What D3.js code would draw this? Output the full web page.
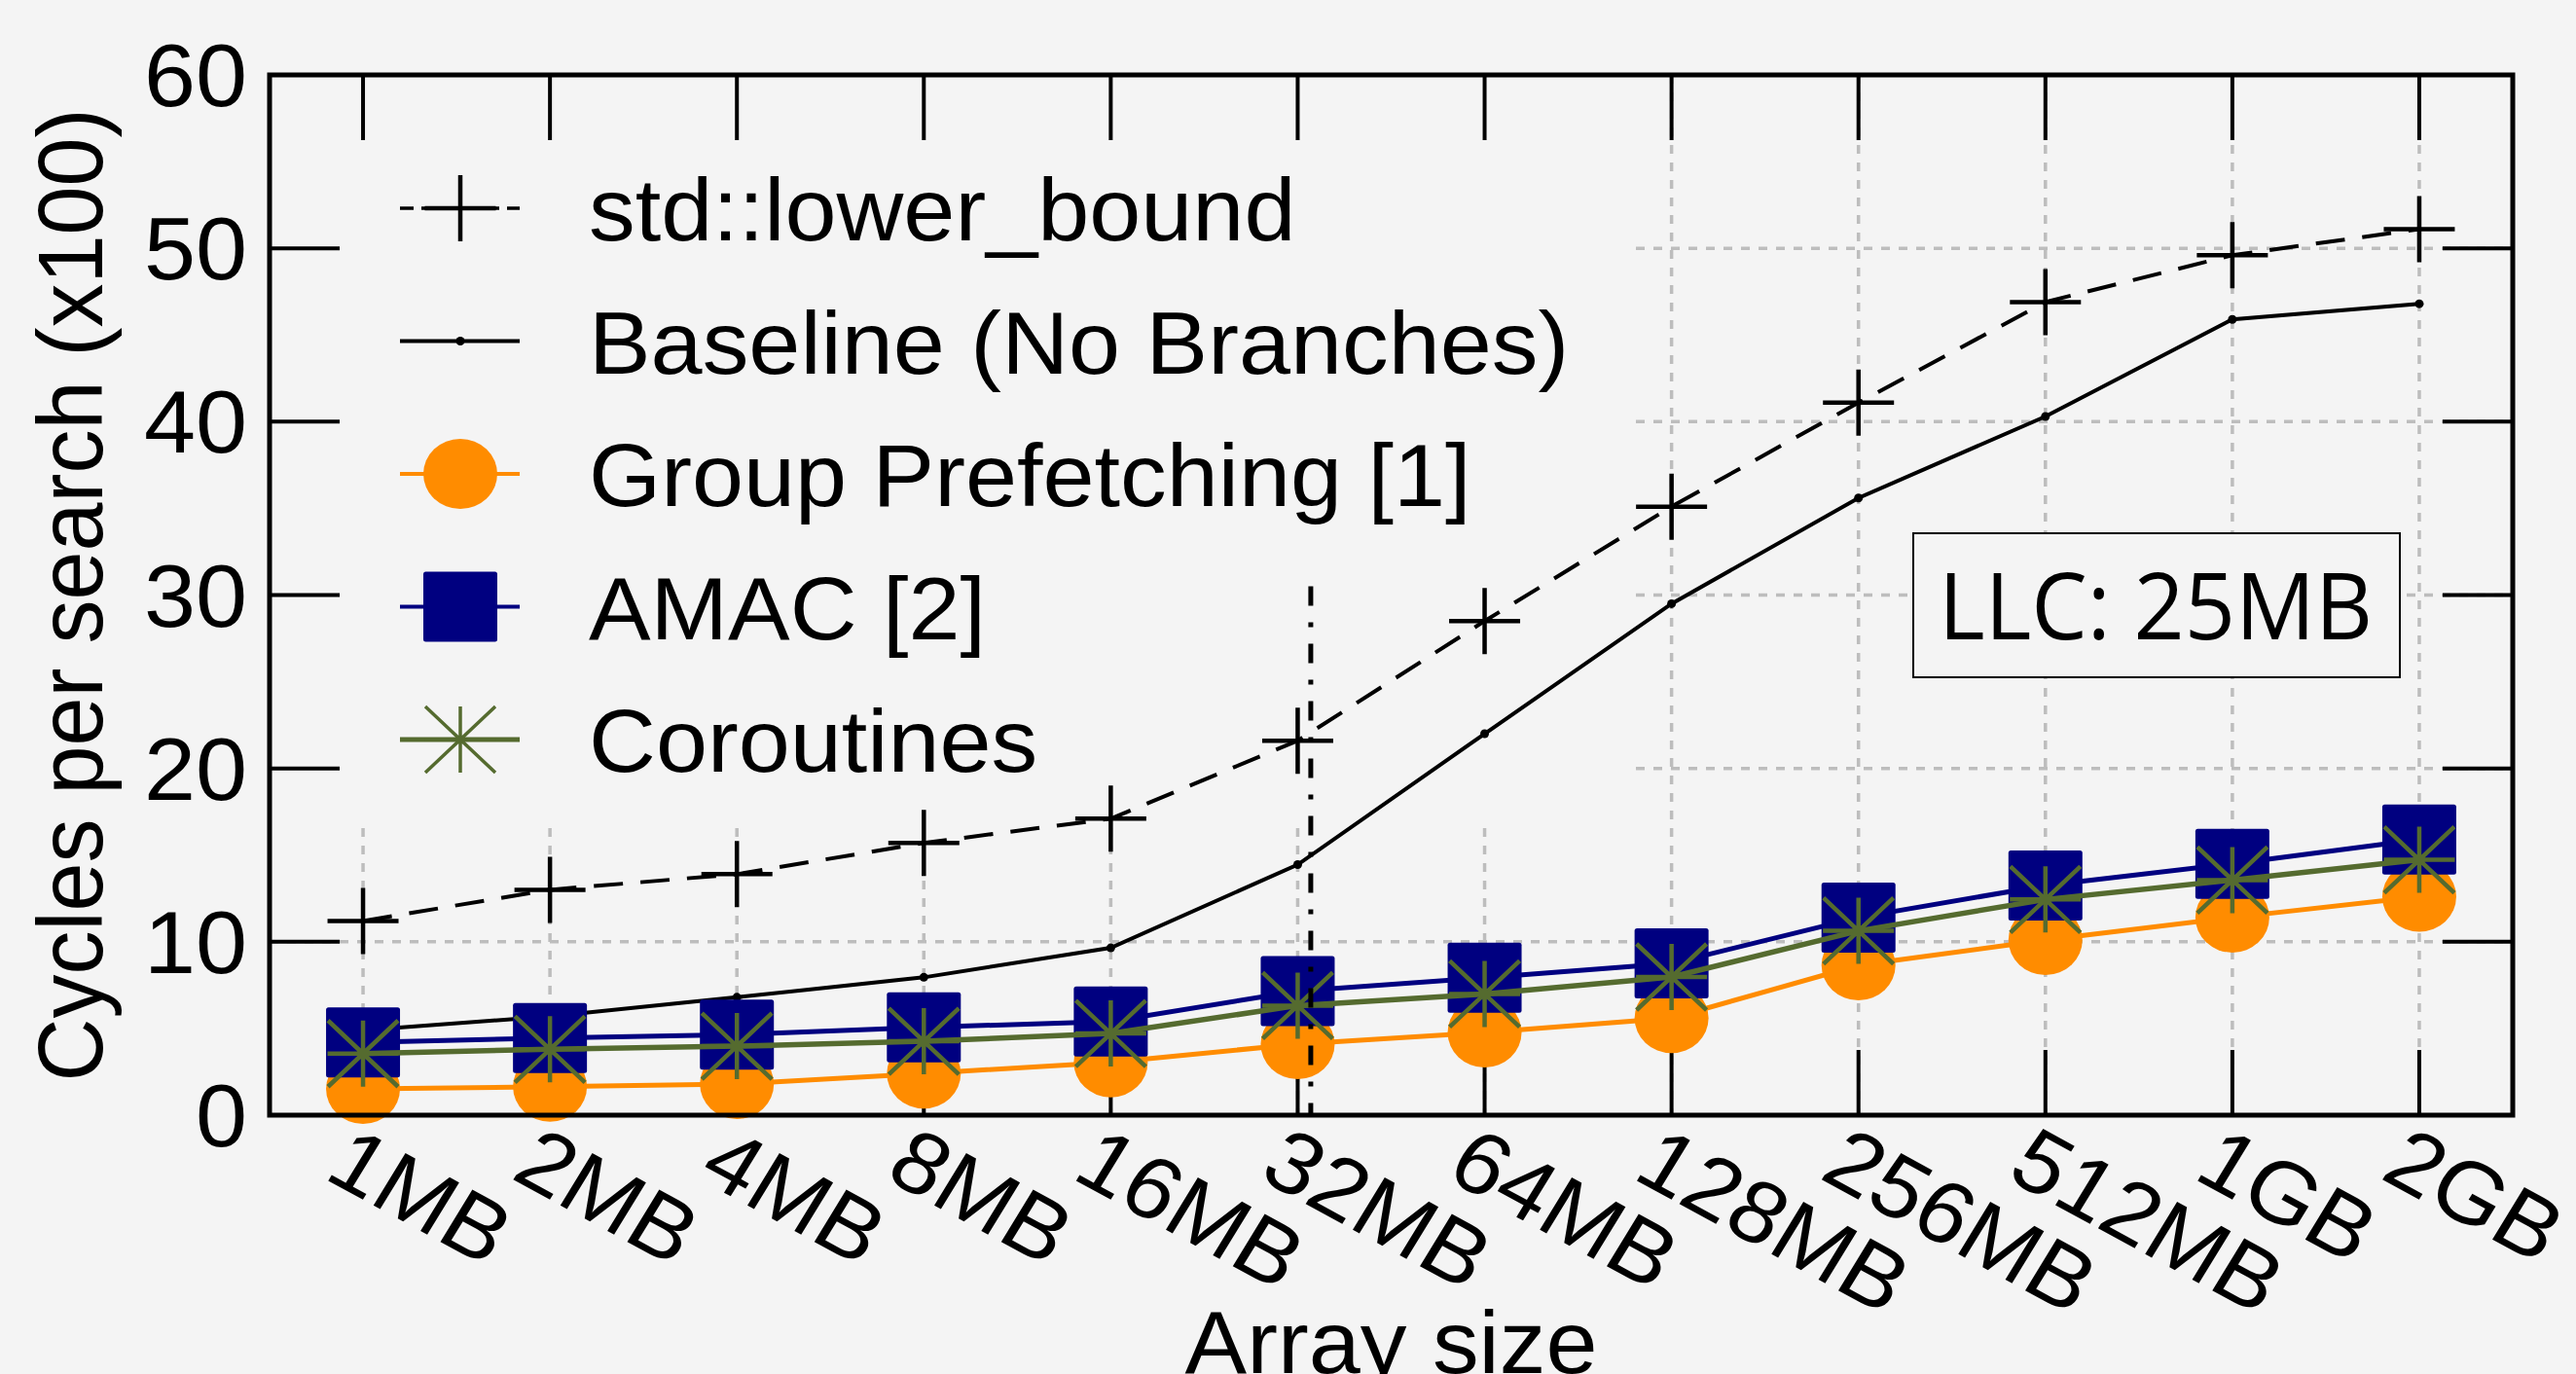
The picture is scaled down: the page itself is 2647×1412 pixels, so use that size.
<!DOCTYPE html>
<html>
<head>
<meta charset="utf-8">
<script src="https://cdn.jsdelivr.net/npm/d3@7"></script>
<style>
  html, body { margin: 0; padding: 0; background: #f4f4f4; overflow: hidden; }
  svg { display: block; }
</style>
</head>
<body>
<svg id="chart" width="2647" height="1412"></svg>
<script>
// ---------------- data ----------------
const categories = ["1MB","2MB","4MB","8MB","16MB","32MB","64MB","128MB","256MB","512MB","1GB","2GB"];
const stdLowerBound    = [11.2, 13.0, 13.9, 15.7, 17.1, 21.6, 28.5, 35.1, 41.1, 46.9, 49.6, 51.1];
const baselineNoBranch = [4.9, 5.7, 6.8, 7.95, 9.65, 14.45, 22.0, 29.5, 35.6, 40.3, 45.9, 46.8];
const groupPrefetching = [1.52, 1.64, 1.8, 2.4, 3.05, 4.1, 4.77, 5.6, 8.64, 10.1, 11.4, 12.6];
const amac             = [4.2, 4.45, 4.65, 5.07, 5.4, 7.16, 7.93, 8.75, 11.4, 13.25, 14.5, 15.9];
const coroutines       = [3.55, 3.8, 3.98, 4.26, 4.71, 6.32, 6.99, 7.97, 10.63, 12.44, 13.56, 14.73];
const yTicks = [0, 10, 20, 30, 40, 50, 60];
const gridY = [10, 20, 30, 40, 50];
const legendLabels = ["std::lower_bound", "Baseline (No Branches)", "Group Prefetching [1]", "AMAC [2]", "Coroutines"];
const llcLabel = "LLC: 25MB";
const llcIndex = 5.07;   // category position of the LLC marker line
const llcTop = 30.5;     // value where the LLC marker line starts
const yLabel = "Cycles per search (x100)";
const xLabel = "Array size";

// ---------------- layout ----------------
const W = 2647, H = 1412;
const L = 277, R = 2582, T = 77, B = 1146;
const bg = "#f4f4f4";
const FONT = "'Liberation Sans', Arial, Helvetica, sans-serif";
const FS = 90;
const SX = 1.06;
const C_ORANGE = "#ff8c00", C_NAVY = "#000080", C_GREEN = "#556b2f";

const svg = d3.select("#chart");
svg.append("rect").attr("width", W).attr("height", H).attr("fill", bg);

const x = d3.scalePoint().domain(categories).range([L, R]).padding(0.5);
const y = d3.scaleLinear().domain([0, 60]).range([B, T]);

// grid
const grid = svg.append("g").attr("stroke", "#bdbdbd").attr("stroke-width", 3.5).attr("stroke-dasharray", "9,9");
grid.selectAll("line.h").data(gridY).join("line")
  .attr("x1", L).attr("x2", R).attr("y1", d => y(d)).attr("y2", d => y(d));
grid.selectAll("line.v").data(categories).join("line")
  .attr("x1", d => x(d)).attr("x2", d => x(d)).attr("y1", T).attr("y2", B);

// opaque key background
svg.append("rect").attr("x", L).attr("y", T).attr("width", 1680 - L).attr("height", 843 - T).attr("fill", bg);

// LLC box
svg.append("rect").attr("x", 1966).attr("y", 548).attr("width", 500).attr("height", 148)
  .attr("fill", bg).attr("stroke", "#000").attr("stroke-width", 2);
svg.append("text").attr("x", 2215).attr("y", 657).attr("text-anchor", "middle")
  .attr("font-family", "'Open Sans', sans-serif").attr("font-size", 95)
  .attr("textLength", 446).attr("lengthAdjust", "spacingAndGlyphs")
  .text(llcLabel);

// ticks (mirror, inside)
const ticks = svg.append("g").attr("stroke", "#000").attr("stroke-width", 4);
ticks.selectAll("line.tb").data(categories).join("line")
  .attr("x1", d => x(d)).attr("x2", d => x(d)).attr("y1", T).attr("y2", T + 67);
ticks.selectAll("line.bb").data(categories).join("line")
  .attr("x1", d => x(d)).attr("x2", d => x(d)).attr("y1", B).attr("y2", B - 67);
ticks.selectAll("line.lt").data(yTicks).join("line")
  .attr("x1", L).attr("x2", L + 72).attr("y1", d => y(d)).attr("y2", d => y(d));
ticks.selectAll("line.rt").data(yTicks).join("line")
  .attr("x1", R).attr("x2", R - 72).attr("y1", d => y(d)).attr("y2", d => y(d));

const line = d3.line().x((d, i) => x(categories[i])).y(d => y(d));

const plusPath = "M-36.5,0H36.5M0,-34V34";
const starPath = "M-36.5,0H36.5M0,-34V34M-36,-34L36,34M-36,34L36,-34";

// std::lower_bound
svg.append("path").attr("d", line(stdLowerBound)).attr("fill", "none")
  .attr("stroke", "#000").attr("stroke-width", 4).attr("stroke-dasharray", "30,18");
svg.append("g").selectAll("path").data(stdLowerBound).join("path")
  .attr("transform", (d, i) => `translate(${x(categories[i])},${y(d)})`)
  .attr("d", plusPath).attr("stroke", "#000").attr("stroke-width", 4.5).attr("fill", "none");

// baseline
svg.append("path").attr("d", line(baselineNoBranch)).attr("fill", "none")
  .attr("stroke", "#000").attr("stroke-width", 4);
svg.append("g").selectAll("circle").data(baselineNoBranch).join("circle")
  .attr("cx", (d, i) => x(categories[i])).attr("cy", d => y(d)).attr("r", 4.5).attr("fill", "#000");

// group prefetching
svg.append("path").attr("d", line(groupPrefetching)).attr("fill", "none")
  .attr("stroke", C_ORANGE).attr("stroke-width", 5);
svg.append("g").selectAll("ellipse").data(groupPrefetching).join("ellipse")
  .attr("cx", (d, i) => x(categories[i])).attr("cy", d => y(d)).attr("rx", 38).attr("ry", 36).attr("fill", C_ORANGE);

// AMAC
svg.append("path").attr("d", line(amac)).attr("fill", "none")
  .attr("stroke", C_NAVY).attr("stroke-width", 5);
svg.append("g").selectAll("rect").data(amac).join("rect")
  .attr("x", (d, i) => x(categories[i]) - 38).attr("y", d => y(d) - 36)
  .attr("width", 76).attr("height", 72).attr("rx", 2.5).attr("fill", C_NAVY);

// coroutines
svg.append("path").attr("d", line(coroutines)).attr("fill", "none")
  .attr("stroke", C_GREEN).attr("stroke-width", 5.5);
svg.append("g").selectAll("path").data(coroutines).join("path")
  .attr("transform", (d, i) => `translate(${x(categories[i])},${y(d)})`)
  .attr("d", starPath).attr("stroke", C_GREEN).attr("stroke-width", 4.5).attr("fill", "none");

// border
svg.append("rect").attr("x", L).attr("y", T).attr("width", R - L).attr("height", B - T)
  .attr("fill", "none").attr("stroke", "#000").attr("stroke-width", 5);

// LLC marker line
const llcX = x(categories[0]) + llcIndex * x.step();
svg.append("line").attr("x1", llcX).attr("x2", llcX).attr("y1", y(llcTop)).attr("y2", B)
  .attr("stroke", "#000").attr("stroke-width", 5).attr("stroke-dasharray", "20,17,5,17");

// legend
const legY = [214, 350.5, 487, 623.5, 760];
const lx1 = 411, lx2 = 534, lm = 473, ltx = 605;
const leg = svg.append("g");
// row 0
leg.append("line").attr("x1", lx1).attr("x2", lx2).attr("y1", legY[0]).attr("y2", legY[0])
  .attr("stroke", "#000").attr("stroke-width", 3.5).attr("stroke-dasharray", "14,8");
leg.append("path").attr("transform", `translate(${lm},${legY[0]})`).attr("d", plusPath)
  .attr("stroke", "#000").attr("stroke-width", 4.5).attr("fill", "none");
// row 1
leg.append("line").attr("x1", lx1).attr("x2", lx2).attr("y1", legY[1]).attr("y2", legY[1])
  .attr("stroke", "#000").attr("stroke-width", 4);
leg.append("circle").attr("cx", lm).attr("cy", legY[1]).attr("r", 4.5).attr("fill", "#000");
// row 2
leg.append("line").attr("x1", lx1).attr("x2", lx2).attr("y1", legY[2]).attr("y2", legY[2])
  .attr("stroke", C_ORANGE).attr("stroke-width", 4);
leg.append("ellipse").attr("cx", lm).attr("cy", legY[2]).attr("rx", 38).attr("ry", 36).attr("fill", C_ORANGE);
// row 3
leg.append("line").attr("x1", lx1).attr("x2", lx2).attr("y1", legY[3]).attr("y2", legY[3])
  .attr("stroke", C_NAVY).attr("stroke-width", 4);
leg.append("rect").attr("x", lm - 38).attr("y", legY[3] - 36).attr("width", 76).attr("height", 72)
  .attr("rx", 2.5).attr("fill", C_NAVY);
// row 4
leg.append("line").attr("x1", lx1).attr("x2", lx2).attr("y1", legY[4]).attr("y2", legY[4])
  .attr("stroke", C_GREEN).attr("stroke-width", 5);
leg.append("path").attr("transform", `translate(${lm},${legY[4]})`).attr("d", starPath)
  .attr("stroke", C_GREEN).attr("stroke-width", 3.5).attr("fill", "none");
leg.selectAll("text").data(legendLabels).join("text")
  .attr("transform", (d, i) => `translate(${ltx},${legY[i] + 33}) scale(${SX},1)`)
  .attr("font-family", FONT).attr("font-size", FS).attr("fill", "#000")
  .text(d => d);

// y tick labels
svg.append("g").selectAll("text").data(yTicks).join("text")
  .attr("transform", d => `translate(254,${y(d) + 32}) scale(${SX},1)`)
  .attr("text-anchor", "end").attr("font-family", FONT).attr("font-size", FS)
  .text(d => d);

// x tick labels (rotated)
svg.append("g").selectAll("text").data(categories).join("text")
  .attr("transform", d => `translate(${x(d) - 42},1210) scale(${SX},1) rotate(30)`)
  .attr("text-anchor", "start").attr("font-family", FONT).attr("font-size", FS)
  .text(d => d);

// axis titles
svg.append("text").attr("transform", `translate(105,${(T + B) / 2}) scale(${SX},1) rotate(-90)`)
  .attr("text-anchor", "middle").attr("font-family", FONT).attr("font-size", FS)
  .text(yLabel);
svg.append("text").attr("transform", `translate(${(L + R) / 2},1411) scale(${SX},1)`)
  .attr("text-anchor", "middle").attr("font-family", FONT).attr("font-size", FS)
  .text(xLabel);
</script>
</body>
</html>
